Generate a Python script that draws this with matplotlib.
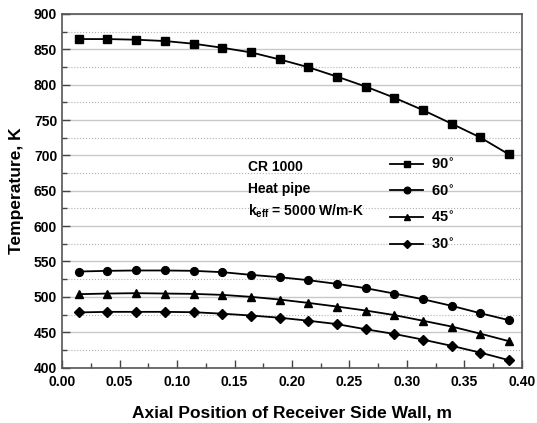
import matplotlib
matplotlib.use("Agg")
import matplotlib.pyplot as plt
from matplotlib.ticker import MultipleLocator, FormatStrFormatter

plt.rcParams['font.family'] = ['Liberation Sans', 'DejaVu Sans']
plt.rcParams['font.weight'] = 'bold'
plt.rcParams['mathtext.default'] = 'bf'

x = [0.0145, 0.0395, 0.0645, 0.0895, 0.1145, 0.1395, 0.1645, 0.1893,
     0.2140, 0.2390, 0.2640, 0.2888, 0.3137, 0.3389, 0.3637, 0.3888]

t90 = [864.5, 864.5, 863.6, 861.7, 857.9, 852.2, 845.6, 835.7,
       824.8, 811.5, 797.4, 781.7, 764.2, 744.8, 725.4, 701.3]
t60 = [535.8, 536.8, 537.3, 537.3, 536.8, 534.9, 531.1, 527.8,
       523.6, 518.4, 512.3, 504.7, 496.7, 487.3, 476.9, 467.0]
t45 = [503.8, 504.7, 505.2, 504.7, 504.2, 502.8, 500.0, 496.2,
       491.5, 486.3, 480.7, 474.3, 466.3, 458.0, 448.0, 437.3]
t30 = [478.0, 478.8, 478.8, 478.8, 478.3, 476.2, 473.6, 470.5,
       466.3, 461.5, 454.2, 447.6, 439.6, 430.7, 421.2, 410.4]

labels = ['90$^{\\circ}$', '60$^{\\circ}$', '45$^{\\circ}$', '30$^{\\circ}$']
markers = ['s', 'o', '^', 'D']
series = [t90, t60, t45, t30]

fig = plt.figure(figsize=(5.37, 4.23), dpi=100)
ax = fig.add_axes([0.1155, 0.131, 0.8565, 0.836])

for y, m, lab in zip(series, markers, labels):
    ms = 5.6 if m != 'D' else 4.8
    ax.plot(x, y, color='black', lw=1.3, marker=m, ms=ms, label=lab)

ax.set_xlim(0.0, 0.40)
ax.set_ylim(400, 900)
ax.xaxis.set_major_locator(MultipleLocator(0.05))
ax.xaxis.set_minor_locator(MultipleLocator(0.025))
ax.yaxis.set_major_locator(MultipleLocator(50))
ax.yaxis.set_minor_locator(MultipleLocator(25))
ax.xaxis.set_major_formatter(FormatStrFormatter('%.2f'))

ax.grid(which='major', axis='y', color='#c8c8c8', lw=1.0, ls='-')
ax.grid(which='minor', axis='y', color='#b0b0b0', lw=0.8, ls=':')
ax.set_axisbelow(True)

ax.tick_params(which='major', direction='in', length=6, width=1, color='#444444',
               labelsize=10)
ax.tick_params(which='minor', direction='in', length=3.5, width=1, color='#444444')
ax.tick_params(axis='x', pad=5)
for lab in ax.get_xticklabels() + ax.get_yticklabels():
    lab.set_fontweight('bold')
for s in ax.spines.values():
    s.set_color('#555555')
    s.set_linewidth(1.2)

ax.set_xlabel('Axial Position of Receiver Side Wall, m', fontsize=12.5,
              fontweight='bold', labelpad=12)
ax.set_ylabel('Temperature, K', fontsize=12.5, fontweight='bold', labelpad=7)

tx = 0.4 * (248 - 62) / 460
def yv(py):
    return 900 - 500 * (py - 14) / 353.5

ax.text(tx, yv(167), 'CR 1000', fontsize=10, fontweight='bold', va='center')
ax.text(tx, yv(189), 'Heat pipe', fontsize=10, fontweight='bold', va='center')
ax.text(tx, yv(211), 'k$_{\\mathregular{eff}}$ = 5000 W/m-K',
        fontsize=10, fontweight='bold', va='center')

leg = ax.legend(loc='upper left', bbox_to_anchor=((384 - 62) / 460, 1 - (150 - 14) / 353.5),
                frameon=False, handlelength=2.3, handletextpad=0.5, labelspacing=0.75,
                prop={'weight': 'bold', 'size': 10.5}, borderaxespad=0, markerscale=0.85)

fig.savefig('out.png', dpi=100)
